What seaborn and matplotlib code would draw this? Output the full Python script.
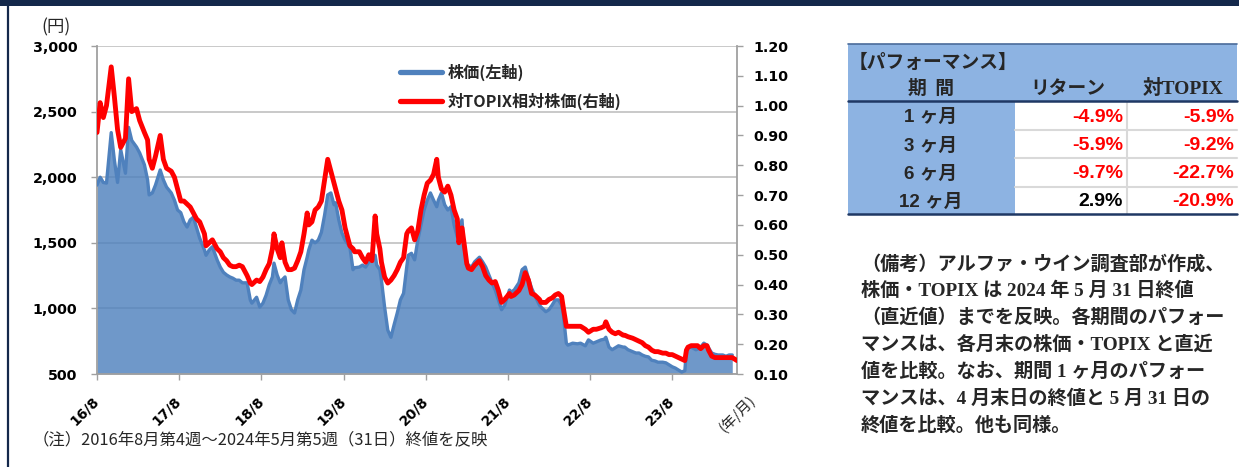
import numpy as np
import pandas as pd
import matplotlib
matplotlib.use("Agg")
import matplotlib.pyplot as plt
from matplotlib.patches import Rectangle
from matplotlib.lines import Line2D
from matplotlib.ticker import FuncFormatter
from matplotlib.transforms import ScaledTranslation
import seaborn as sns

sns.set_style("white")
plt.rcParams["font.family"] = ["DejaVu Sans", "Noto Sans CJK JP"]

# weekly closes from 2016-08 (4th week) to 2024-05-31; x = weeks since start
START = pd.Timestamp("2016-08-26")
weeks = [0, 2, 4, 6, 9, 11, 13, 15, 18, 20, 22, 25, 27, 30, 32, 33, 35, 37, 40, 42,
         44, 47, 49, 51, 53, 55, 57, 59, 61, 63, 65, 68, 69, 71, 73, 76, 78, 80, 82, 84,
         86, 88, 90, 92, 95, 97, 98, 101, 103, 105, 107, 109, 111, 112, 114, 116, 117, 119, 121, 123,
         125, 127, 129, 131, 133, 134, 136, 138, 140, 142, 144, 146, 148, 150, 151, 153, 155, 157, 160, 162,
         163, 166, 168, 170, 172, 174, 176, 177, 179, 180, 182, 184, 186, 188, 190, 192, 194, 196, 197, 199,
         201, 203, 205, 207, 209, 211, 213, 215, 216, 218, 220, 222, 224, 226, 228, 229, 231, 232, 234, 235,
         237, 239, 242, 244, 246, 248, 250, 252, 254, 256, 258, 261, 262, 264, 267, 269, 271, 273, 275, 277,
         280, 281, 284, 286, 288, 290, 292, 294, 295, 297, 298, 301, 304, 306, 309, 311, 314, 316, 319, 321,
         322, 324, 326, 328, 330, 333, 334, 336, 339, 341, 343, 345, 347, 349, 351, 353, 355, 358, 360, 362,
         364, 366, 368, 370, 372, 373, 374, 376, 379, 380, 382, 384, 386, 387, 389, 391, 393, 396, 398, 400,
         402, 405]
price = [1940, 2000, 1960, 1955, 2340, 2130, 1960, 2210, 2030, 2380, 2280, 2230, 2185, 2095, 1980, 1865, 1880, 1940, 2055, 1980,
         1925, 1880, 1825, 1750, 1730, 1660, 1620, 1675, 1695, 1615, 1535, 1445, 1405, 1445, 1470, 1370, 1315, 1275, 1255, 1240,
         1230, 1215, 1215, 1195, 1195, 1065, 1040, 1085, 1010, 1040, 1100, 1180, 1240, 1345, 1255, 1195, 1215, 1240, 1065, 990,
         965, 1065, 1140, 1295, 1390, 1445, 1520, 1500, 1520, 1580, 1710, 1865, 1880, 1790, 1805, 1675, 1575, 1520, 1470, 1295,
         1310, 1315, 1330, 1315, 1355, 1390, 1405, 1330, 1295, 1215, 1010, 835, 780, 875, 965, 1065, 1115, 1315, 1405, 1420,
         1370, 1520, 1635, 1750, 1825, 1880, 1825, 1775, 1825, 1880, 1790, 1750, 1775, 1635, 1545, 1600, 1675, 1485, 1345, 1330,
         1315, 1355, 1390, 1355, 1315, 1255, 1195, 1140, 1065, 990, 1025, 1140, 1125, 1140, 1195, 1295, 1315, 1230, 1155, 1100,
         1025, 1010, 975, 990, 1025, 1065, 1065, 1025, 965, 735, 720, 735, 730, 735, 715, 760, 735, 745, 760, 765,
         780, 705, 685, 700, 715, 705, 705, 685, 670, 660, 660, 645, 635, 630, 605, 600, 590, 590, 585, 570,
         555, 545, 530, 515, 525, 685, 705, 705, 685, 690, 705, 735, 720, 700, 660, 650, 645, 645, 635, 645,
         645, np.nan]
rel = [0.91, 1.01, 0.96, 1.00, 1.13, 1.03, 0.92, 0.86, 0.89, 1.09, 0.98, 0.99, 0.95, 0.91, 0.885, 0.82, 0.79, 0.83, 0.90, 0.82,
       0.79, 0.78, 0.76, 0.72, 0.68, 0.68, 0.67, 0.66, 0.64, 0.62, 0.61, 0.57, 0.53, 0.54, 0.55, 0.52, 0.51, 0.49, 0.48, 0.465,
       0.46, 0.46, 0.465, 0.46, 0.43, 0.405, 0.40, 0.415, 0.41, 0.425, 0.45, 0.47, 0.52, 0.57, 0.52, 0.49, 0.54, 0.475, 0.45, 0.45,
       0.455, 0.48, 0.51, 0.57, 0.64, 0.60, 0.61, 0.65, 0.66, 0.68, 0.75, 0.82, 0.78, 0.74, 0.72, 0.68, 0.65, 0.59, 0.53, 0.52,
       0.51, 0.51, 0.49, 0.475, 0.50, 0.48, 0.63, 0.57, 0.52, 0.475, 0.425, 0.405, 0.415, 0.43, 0.45, 0.475, 0.49, 0.57, 0.58, 0.59,
       0.55, 0.58, 0.65, 0.70, 0.74, 0.75, 0.77, 0.82, 0.76, 0.72, 0.71, 0.73, 0.70, 0.65, 0.62, 0.54, 0.59, 0.55, 0.47, 0.455,
       0.45, 0.465, 0.48, 0.46, 0.43, 0.415, 0.405, 0.41, 0.38, 0.34, 0.35, 0.37, 0.36, 0.365, 0.38, 0.40, 0.44, 0.415, 0.37, 0.365,
       0.35, 0.34, 0.34, 0.35, 0.355, 0.365, 0.37, 0.36, 0.325, 0.26, 0.26, 0.26, 0.26, 0.26, 0.25, 0.24, 0.25, 0.25, 0.255, 0.26,
       0.275, 0.25, 0.24, 0.235, 0.24, 0.23, 0.23, 0.225, 0.22, 0.215, 0.21, 0.205, 0.195, 0.19, 0.18, 0.175, 0.175, 0.17, 0.17, 0.165,
       0.165, 0.16, 0.155, 0.15, 0.145, 0.18, 0.19, 0.195, 0.195, 0.195, 0.185, 0.195, 0.195, 0.18, 0.16, 0.155, 0.155, 0.155, 0.155, 0.155,
       0.155, 0.145]
assert len(weeks) == len(price) == len(rel)

year_ticks = ["16/8", "17/8", "18/8", "19/8", "20/8", "21/8", "22/8", "23/8"]
periods = ["1 ヶ月", "3 ヶ月", "6 ヶ月", "12 ヶ月"]
ret = [-4.9, -5.9, -9.7, 2.9]
vs_topix = [-5.9, -9.2, -22.7, -20.9]

df = pd.DataFrame({"date": START + pd.to_timedelta(np.array(weeks) * 7, unit="D"),
                   "price": price, "rel": rel})

W, H = 1239, 467
fig = plt.figure(figsize=(W / 100, H / 100), dpi=100)
fx = lambda x: x / W
fy = lambda y: 1 - y / H

BLUE, RED, GRID, AXC = "#4f81bd", "#ff0000", "#c0c0c0", "#a0a0a0"
JP = ["Noto Sans CJK JP"]

ax = fig.add_axes([fx(97), fy(374), fx(737) - fx(97), fy(46) - fy(374)])
ax2 = ax.twinx()

ax.fill_between(df["date"], df["price"], 500, color=BLUE, alpha=0.82, lw=0, zorder=2)
sns.lineplot(data=df, x="date", y="price", ax=ax, color=BLUE, lw=2.4, zorder=3, legend=False)
sns.lineplot(data=df, x="date", y="rel", ax=ax2, color=RED, lw=3.5, zorder=3, legend=False)

ax.set_xlim(START, START + pd.Timedelta(weeks=405))
ax.set_ylim(500, 3000)
ax.set_yticks(range(500, 3001, 500))
ax.yaxis.set_major_formatter(FuncFormatter(lambda v, _: f"{v:,.0f}"))
ax2.set_ylim(0.10, 1.20)
ax2.set_yticks(np.round(np.arange(0.1, 1.201, 0.1), 2))
ax2.yaxis.set_major_formatter(FuncFormatter(lambda v, _: f"{v:.2f}"))
ax.set_xlabel(""); ax.set_ylabel(""); ax2.set_ylabel("")

ax.set_axisbelow(True)
ax.yaxis.grid(True, color=GRID, lw=1.2)
ax.xaxis.grid(False)
for s in ["top", "right"]:
    ax.spines[s].set_visible(False)
for s in ["top", "left", "bottom"]:
    ax2.spines[s].set_visible(False)
for sp in [ax.spines["left"], ax.spines["bottom"], ax2.spines["right"]]:
    sp.set_color(AXC); sp.set_linewidth(1.3)

ax.tick_params(axis="y", left=True, direction="out", length=4, width=1, color=AXC,
               pad=10, labelsize=10.3, labelcolor="black")
ax.tick_params(axis="x", bottom=True, direction="out", length=4, width=1, color=AXC,
               pad=10, labelsize=10, labelcolor="black")
ax2.tick_params(axis="y", right=True, direction="out", length=4, width=1, color=AXC,
                pad=8, labelsize=10.3, labelcolor="black")
for t in ax.get_yticklabels() + ax2.get_yticklabels():
    t.set_fontweight("bold")

ax.set_xticks([START + pd.Timedelta(weeks=52 * k) for k in range(len(year_ticks))])
ax.set_xticklabels(year_ticks, rotation=45, ha="right", fontweight="bold")
shift = ScaledTranslation(5 / 100, 0, fig.dpi_scale_trans)
for t in ax.get_xticklabels():
    t.set_transform(t.get_transform() + shift)

handles = [Line2D([], [], color=BLUE, lw=3.8), Line2D([], [], color=RED, lw=3.8)]
ax2.legend(handles, ["株価(左軸)", "対TOPIX相対株価(右軸)"], loc="upper left",
           bbox_to_anchor=(0.473, 0.945), frameon=False, borderpad=0, borderaxespad=0,
           handlelength=2.6, handletextpad=0.4, labelspacing=0.7,
           prop=dict(family=JP, weight="bold", size=11.6))

fig.text(fx(56), fy(27), "(円)", family=JP, fontsize=12.5, ha="center", va="center")
fig.text(fx(737), fy(414), "(年/月)", family=JP, fontsize=10.5, rotation=45, ha="center", va="center")
fig.text(fx(33), fy(440), "（注）2016年8月第4週〜2024年5月第5週（31日）終値を反映",
         family=JP, fontsize=11.8, ha="left", va="center")

# frame
fig.add_artist(Rectangle((0, fy(6)), 1, 6 / H, transform=fig.transFigure, color="#14284b", lw=0))
fig.add_artist(Line2D([fx(8), fx(8)], [0, 1], transform=fig.transFigure, color="#14284b", lw=1.6))

# performance table
def hline(y, x0, x1, color, lw):
    fig.add_artist(Line2D([fx(x0), fx(x1)], [fy(y), fy(y)], transform=fig.transFigure, color=color, lw=lw))

def vline(x, y0, y1, color, lw):
    fig.add_artist(Line2D([fx(x), fx(x)], [fy(y0), fy(y1)], transform=fig.transFigure, color=color, lw=lw))

TB = "#8db3e2"
fig.add_artist(Rectangle((fx(848), fy(101)), fx(1237) - fx(848), fy(44) - fy(101),
                         transform=fig.transFigure, color=TB, lw=0))
fig.add_artist(Rectangle((fx(848), fy(214)), fx(1015) - fx(848), fy(101) - fy(214),
                         transform=fig.transFigure, color=TB, lw=0))
for y in [130, 158, 187]:
    hline(y, 1015, 1237, "#d9d9d9", 1.5)
vline(1127, 101, 214, "#d9d9d9", 1.5)
hline(44, 848, 1237, "#4a6b9a", 1.2)
hline(101, 848, 1237, "#1f3864", 1.8)
hline(214, 848, 1237, "#1f3864", 1.8)

fig.text(fx(849), fy(62), "【パフォーマンス】", family=JP, weight="bold", fontsize=13.5, ha="left", va="center")
fig.text(fx(931), fy(88), "期  間", family=JP, weight="bold", fontsize=13.5, ha="center", va="center")
fig.text(fx(1068), fy(88), "リターン", family=JP, weight="bold", fontsize=13.5, ha="center", va="center")
fig.text(fx(1183), fy(88), "対TOPIX", family=["Liberation Serif"] + JP, weight="bold",
         fontsize=14, ha="center", va="center")
row_y = [117, 146, 174, 202]
for yy, p, r, v in zip(row_y, periods, ret, vs_topix):
    fig.text(fx(931), fy(yy), p, family=["Liberation Sans"] + JP, weight="bold", fontsize=13.5,
             ha="center", va="center")
    fig.text(fx(1123), fy(yy), f"{r:.1f}%", family="Liberation Sans", weight="bold", fontsize=14,
             ha="right", va="center", color=RED if r < 0 else "black")
    fig.text(fx(1234), fy(yy), f"{v:.1f}%", family="Liberation Sans", weight="bold", fontsize=14,
             ha="right", va="center", color=RED if v < 0 else "black")

note = ["（備考）アルファ・ウイン調査部が作成、",
        "株価・TOPIX は 2024 年 5 月 31 日終値",
        "（直近値）までを反映。各期間のパフォー",
        "マンスは、各月末の株価・TOPIX と直近",
        "値を比較。なお、期間 1 ヶ月のパフォー",
        "マンスは、4 月末日の終値と 5 月 31 日の",
        "終値を比較。他も同様。"]
for i, line in enumerate(note):
    fig.text(fx(861), fy(264 + 27 * i), line, family=["Liberation Serif"] + JP, weight="bold",
             fontsize=13.8, ha="left", va="center")

fig.savefig("out.png", dpi=100)
